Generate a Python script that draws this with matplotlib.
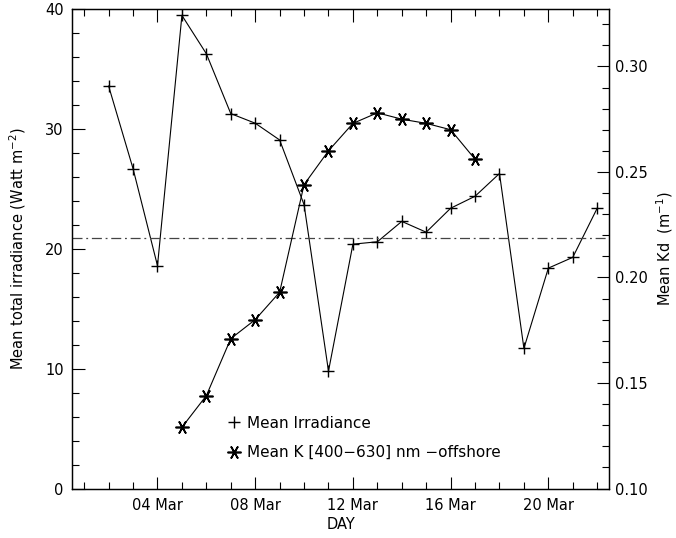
from matplotlib import pyplot as plt
from matplotlib.lines import Line2D
from matplotlib.ticker import MultipleLocator, FixedLocator

# DATA
IRR_DAYS = list(range(2, 23))
IRR = [33.6, 26.7, 18.6, 39.5, 36.3, 31.3, 30.5, 29.1, 23.7, 9.8, 20.4,
       20.6, 22.3, 21.4, 23.4, 24.4, 26.3, 11.7, 18.4, 19.3, 23.4]
KD_DAYS = list(range(5, 18))
KD = [0.129, 0.144, 0.171, 0.180, 0.193, 0.244, 0.260, 0.273, 0.278,
      0.275, 0.273, 0.270, 0.256]
IRR_MEAN = 20.9
MAJOR_DAYS = [4, 8, 12, 16, 20]
MAJOR_LABELS = ['04 Mar', '08 Mar', '12 Mar', '16 Mar', '20 Mar']

plt.rcParams['font.family'] = ['DejaVu Sans']
plt.rcParams['font.size'] = 10.5
plt.rcParams['mathtext.default'] = 'regular'

ASTER = (6, 2, 90)

# FIGURE
fig = plt.figure(figsize=(6.76, 5.38), dpi=100)
ax = fig.add_axes([0.1065, 0.092, 0.795, 0.8905])
ax2 = ax.twinx()

ax.plot(IRR_DAYS, IRR, color='k', lw=0.8, marker='+', ms=9, mew=1.0)
ax.axhline(IRR_MEAN, color='#444444', lw=0.9, dashes=(8, 3, 1.5, 3))
ax2.plot(KD_DAYS, KD, color='k', lw=0.8, marker=ASTER, ms=10, mew=1.2)

ax.set_xlim(0.5, 22.5)
ax.set_ylim(0, 40)
ax2.set_ylim(0.10, 0.327)

ax.xaxis.set_major_locator(FixedLocator(MAJOR_DAYS))
ax.set_xticklabels(MAJOR_LABELS)
ax.xaxis.set_minor_locator(MultipleLocator(1))
ax.yaxis.set_major_locator(MultipleLocator(10))
ax.yaxis.set_minor_locator(MultipleLocator(2))
ax2.yaxis.set_major_locator(MultipleLocator(0.05))
ax2.yaxis.set_minor_locator(MultipleLocator(0.01))
ax2.yaxis.set_major_formatter(plt.FormatStrFormatter('%.2f'))

ax.tick_params(axis='x', which='both', direction='in', top=True, pad=7)
ax.tick_params(axis='y', which='both', direction='in', right=False, pad=6)
ax.tick_params(which='major', length=9, width=0.8)
ax.tick_params(which='minor', length=5, width=0.8)
ax2.tick_params(axis='y', which='both', direction='in', pad=4)
ax2.tick_params(which='major', length=9, width=0.8)
ax2.tick_params(which='minor', length=5, width=0.8)
for a in (ax, ax2):
    for s in a.spines.values():
        s.set_linewidth(0.9)

ax.set_xlabel('DAY', labelpad=3)
ax.set_ylabel('Mean total irradiance (Watt m$^{-2}$)', labelpad=12)
ax2.set_ylabel('Mean Kd  (m$^{-1}$)', labelpad=5)

handles = [Line2D([], [], color='k', ls='none', marker='+', ms=9, mew=1.0),
           Line2D([], [], color='k', ls='none', marker=ASTER, ms=10, mew=1.2)]
ax.legend(handles, ['Mean Irradiance', 'Mean K [400\u2212630] nm \u2212offshore'],
          loc='upper left', bbox_to_anchor=(0.275, 0.168), frameon=False,
          borderpad=0, handlelength=0.9, handletextpad=0.35, labelspacing=0.95,
          fontsize=11)

fig.savefig('out.png', dpi=100)
